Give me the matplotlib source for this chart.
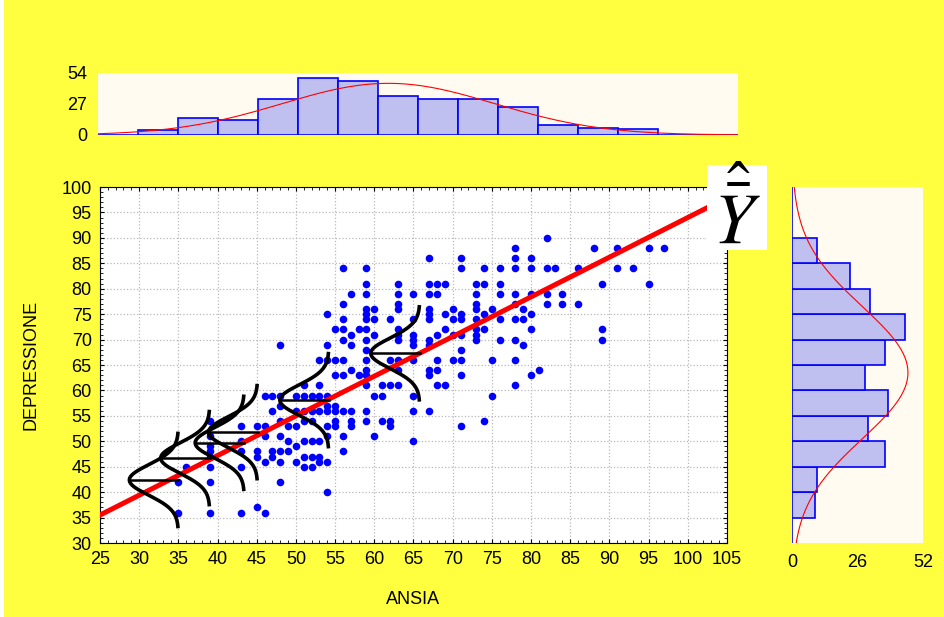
import numpy as np
import matplotlib
matplotlib.use('Agg')
import matplotlib.pyplot as plt
from matplotlib.patches import Rectangle
from matplotlib.ticker import MultipleLocator

plt.rcParams['font.family'] = ['Liberation Sans', 'DejaVu Sans']
plt.rcParams['mathtext.fontset'] = 'stix'

# punteggi ANSIA (x) e DEPRESSIONE (y), raggruppati per x
ansia_livelli = [35, 36, 39, 43, 45, 46, 47, 48, 49, 50, 51, 52, 53, 54, 55, 56, 57, 58,
                 59, 60, 61, 62, 63, 65, 67, 68, 69, 70, 71, 73, 74, 75, 76, 78, 79, 80,
                 81, 82, 83, 84, 86, 88, 89, 91, 93, 95, 97]
depr_per_livello = [
    [42, 36], [45], [54, 51, 49, 48, 47, 45, 42, 36], [53, 50, 48, 45, 36],
    [53, 48, 47, 37], [59, 53, 51, 46, 36], [59, 56, 48, 47],
    [69, 59, 57, 54, 51, 48, 46, 42], [53, 50, 48], [59, 56, 53, 49, 46],
    [61, 59, 56, 54, 50, 47, 45], [59, 56, 54, 50, 47, 45], [66, 61, 59, 56, 50, 47, 46],
    [75, 69, 66, 59, 57, 56, 53, 51, 46, 40], [72, 66, 63, 57, 56, 54, 53],
    [84, 77, 74, 72, 70, 66, 63, 56, 51, 48], [79, 71, 69, 64, 56, 54, 53], [72, 63],
    [84, 81, 79, 76, 75, 74, 72, 70, 68, 66, 64, 63, 61, 56, 54], [76, 74, 71, 59, 51],
    [61, 59, 54], [74, 66, 61, 54, 53], [81, 79, 77, 76, 72, 71, 70, 66, 64, 61],
    [79, 74, 71, 70, 69, 66, 59, 56, 50], [86, 81, 79, 76, 75, 74, 70, 69, 64, 63, 56],
    [81, 79, 71, 66, 64, 61], [81, 75, 72, 61], [76, 74, 71, 66],
    [86, 84, 75, 74, 71, 68, 66, 63, 53], [81, 79, 77, 76, 74, 72, 71, 70],
    [84, 81, 75, 72, 54], [76, 66, 59], [84, 81, 79, 74, 70],
    [88, 86, 84, 79, 77, 74, 70, 66, 61], [76, 74, 69], [86, 84, 79, 75, 72, 63],
    [64], [90, 84, 79, 77], [84], [79, 77], [84, 77], [88], [81, 72, 70],
    [88, 84], [84], [88, 81], [88],
]

# istogramma ANSIA (bin di 5 da 25 a 105)
ansia_bordi = list(range(25, 105, 5))
ansia_freq = [0, 4, 15, 13, 31, 50, 47, 34, 31, 31, 24, 9, 6, 5, 0, 0]
ansia_media, ansia_ds = 61.3, 13.3

# istogramma DEPRESSIONE (bin di 5 da 30 a 100)
depr_bordi = list(range(30, 100, 5))
depr_freq = [0, 9, 10, 37, 30, 38, 29, 37, 45, 31, 23, 10, 0, 0]
depr_media, depr_ds = 63.5, 13.0
n_oss = 300

# retta di regressione
b0, b1 = 16.0, 0.78
# centri delle curve normali condizionate
curve_x = [35.0, 39.0, 43.4, 45.1, 54.2, 65.8]
curve_y = [42.4, 46.7, 49.7, 51.8, 58.1, 67.3]
curve_ds = 3.0

GIALLO = '#FFFF40'
CREMA = '#FFFBF0'
LILLA = '#BFBFF0'

xs = np.concatenate([[x] * len(ys) for x, ys in zip(ansia_livelli, depr_per_livello)])
ys = np.concatenate(depr_per_livello)

fig = plt.figure(figsize=(9.45, 6.17), dpi=100, facecolor='white')
fig.patches.append(Rectangle((4 / 945, 0), 1, 1, transform=fig.transFigure,
                             facecolor=GIALLO, edgecolor='none', zorder=-5))

# grafico principale
ax = fig.add_axes([0.1058, 0.1199, 0.6635, 0.577], facecolor='white')
ax.set_xlim(25, 105)
ax.set_ylim(30, 100)
ax.set_xticks(range(25, 106, 5))
ax.set_yticks(range(30, 101, 5))
ax.xaxis.set_minor_locator(MultipleLocator(1))
ax.yaxis.set_minor_locator(MultipleLocator(1))
ax.tick_params(which='both', direction='in', top=True, right=True, labelsize=13)
ax.tick_params(which='major', length=3)
ax.tick_params(which='minor', length=2)
ax.tick_params(axis='x', pad=6)
ax.tick_params(axis='y', pad=6)
ax.grid(True, which='major', ls=':', color='#b8b8b8', lw=0.9)
ax.set_axisbelow(True)
ax.set_xlabel('ANSIA', fontsize=13, labelpad=16)
ax.set_ylabel('DEPRESSIONE', fontsize=13, labelpad=16)

ax.scatter(xs, ys, s=30, color='#0000FF', zorder=2, linewidths=0)
xr = np.linspace(25, 105, 50)
ax.plot(xr, b0 + b1 * xr, color='red', lw=3.6, zorder=3)

t = np.linspace(-9.5, 9.5, 200)
for cx, cy in zip(curve_x, curve_y):
    dx = 6.25 * np.exp(-t ** 2 / (2 * curve_ds ** 2))
    ax.plot(cx - dx, cy + t, color='black', lw=2.6, zorder=4, solid_capstyle='butt')
    ax.plot([cx - 6.25, cx], [cy, cy], color='black', lw=1.8, zorder=4)

# istogramma in alto
axt = fig.add_axes([0.1037, 0.7812, 0.6772, 0.1005], facecolor=CREMA)
axt.bar(ansia_bordi, ansia_freq, width=5, align='edge', color=LILLA,
        edgecolor='#0000FF', lw=1.2)
gx = np.linspace(25, 105, 300)
gpdf = np.exp(-(gx - ansia_media) ** 2 / (2 * ansia_ds ** 2)) / (ansia_ds * np.sqrt(2 * np.pi))
axt.plot(gx, n_oss * 5 * gpdf, color='red', lw=0.8)
axt.set_xlim(25, 105)
axt.set_ylim(0, 54)
axt.set_yticks([0, 27, 54])
axt.set_xticks([])
axt.tick_params(length=0, labelsize=13, pad=8)
for s in axt.spines.values():
    s.set_visible(False)

# istogramma a destra
axr = fig.add_axes([0.8381, 0.1199, 0.1386, 0.577], facecolor=CREMA)
axr.barh(depr_bordi, depr_freq, height=5, align='edge', color=LILLA,
         edgecolor='#0000FF', lw=1.2)
gy = np.linspace(30, 100, 300)
gpdf = np.exp(-(gy - depr_media) ** 2 / (2 * depr_ds ** 2)) / (depr_ds * np.sqrt(2 * np.pi))
axr.plot(n_oss * 5 * gpdf, gy, color='red', lw=0.8)
axr.set_xlim(0, 52)
axr.set_ylim(30, 100)
axr.set_xticks([0, 26, 52])
axr.set_yticks([])
axr.tick_params(length=0, labelsize=13, pad=8)
for s in axr.spines.values():
    s.set_visible(False)

# etichetta Y cappello
fig.patches.append(Rectangle((0.748, 0.5948), 0.0635, 0.1378, transform=fig.transFigure,
                             facecolor='white', edgecolor='none', zorder=5))
fig.text(0.7795, 0.652, r'$\hat{\bar{Y}}$', fontsize=52, ha='center', va='center', zorder=6)

fig.savefig('out.png', dpi=100, facecolor=fig.get_facecolor())
